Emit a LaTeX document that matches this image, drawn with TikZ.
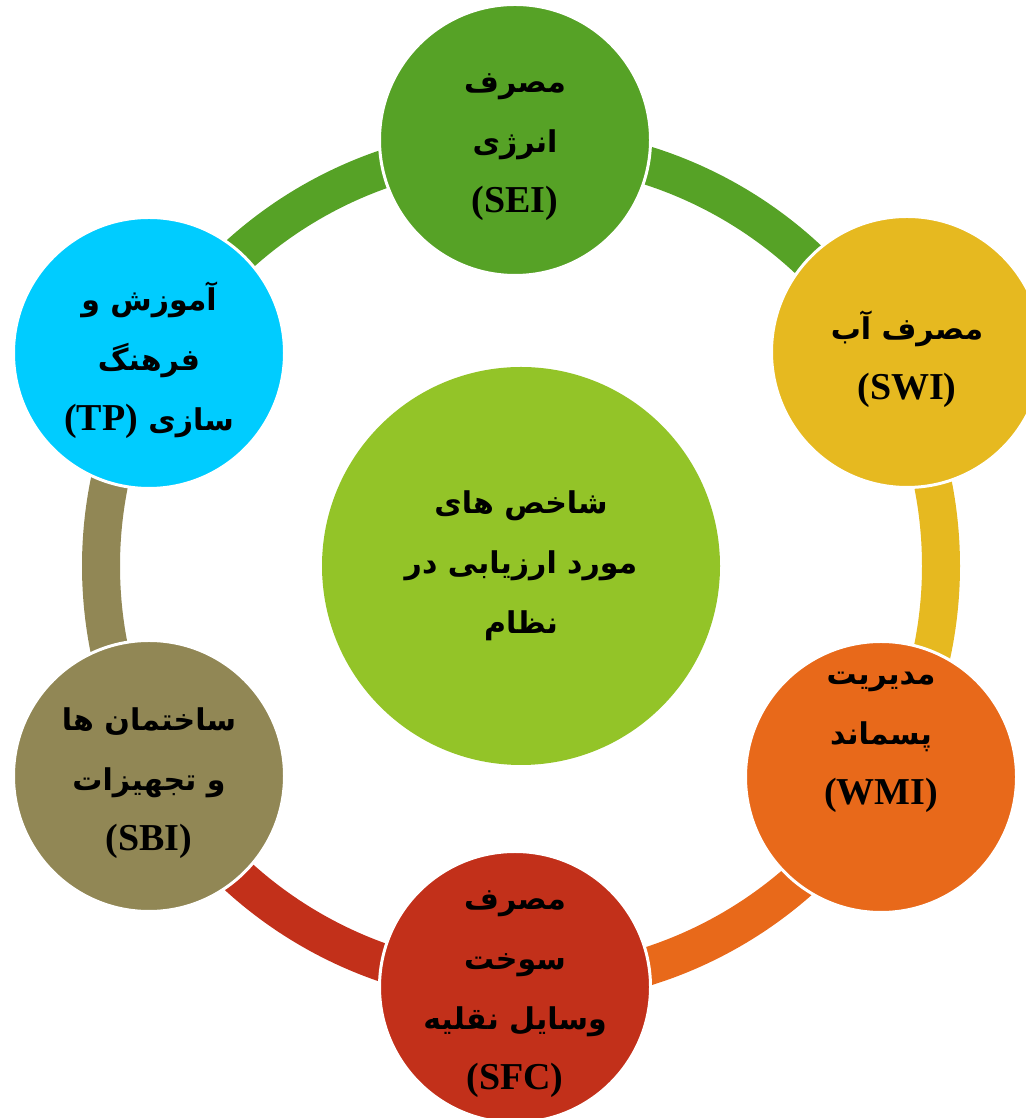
\documentclass[tikz,border=0pt]{standalone}
\usepackage{fontspec}
\newfontfamily\arabicfont[Script=Arabic]{DejaVu Sans}
\newfontfamily\latinfont{Liberation Serif}
\TeXXeTstate=1

\definecolor{cgreen}{RGB}{86,162,38}
\definecolor{cyellow}{RGB}{230,185,32}
\definecolor{corange}{RGB}{232,105,26}
\definecolor{cred}{RGB}{194,48,26}
\definecolor{colive}{RGB}{145,135,85}
\definecolor{ccyan}{RGB}{0,204,255}
\definecolor{clime}{RGB}{147,196,40}

\newcommand{\fa}[1]{{\arabicfont\bfseries\fontsize{30}{60}\selectfont\beginR #1\endR}}
\newcommand{\la}[1]{{\latinfont\bfseries\fontsize{38}{60}\selectfont #1}}

\begin{document}
\begin{tikzpicture}[x=1pt, y=1pt,
    ring/.style={line width=38pt},
    ball/.style={circle, draw=white, line width=3pt, minimum size=271pt, inner sep=0pt},
    balltext/.style={align=center, font=\fontsize{38}{60}\selectfont, yshift=-7pt}]
    \useasboundingbox (0,0) rectangle (1025,1118);
    \coordinate (hub) at (521,552);

    % Prstenec mezi kruhy
    \foreach \a/\b/\c in {150/90/cgreen, 90/29/cgreen, 29/-30/cyellow,
                          -30/-90/corange, -90/-150/cred, 150/210/colive} {
        \draw[ring, \c] ([shift={(\a:420)}]hub) arc[start angle=\a, end angle=\b, radius=420];
    }

    % Stredni kruh
    \node[ball, fill=clime, draw=none, minimum size=398pt, align=center,
          font=\fontsize{38}{60}\selectfont] (core) at (hub)
        {\fa{شاخص های}\\ \fa{مورد ارزیابی در}\\ \fa{نظام}};

    % Vnejsi kruhy
    \node[ball, fill=cgreen, label={[balltext]center:{\fa{مصرف}\\ \fa{انرژی}\\ \la{(SEI)}}}]
          (sei) at (515,978) {};
    \node[ball, fill=cyellow, label={[balltext]center:{\fa{مصرف آب}\\ \la{(SWI)}}}]
          (swi) at (907,766) {};
    \node[ball, fill=corange,
          label={[balltext, yshift=42pt]center:{\fa{مدیریت}\\ \fa{پسماند}\\ \la{(WMI)}}}]
          (wmi) at (881,341) {};
    \node[ball, fill=cred,
          label={[balltext]center:{\fa{مصرف}\\ \fa{سوخت}\\ \fa{وسایل نقلیه}\\ \la{(SFC)}}}]
          (sfc) at (515,131) {};
    \node[ball, fill=colive,
          label={[balltext]center:{\fa{ساختمان ها}\\ \fa{و تجهیزات}\\ \la{(SBI)}}}]
          (sbi) at (149,342) {};
    \node[ball, fill=ccyan,
          label={[balltext]center:{\fa{آموزش و}\\ \fa{فرهنگ}\\ \fa{سازی \beginL\la{(TP)}\endL}}}]
          (tp) at (149,765) {};
\end{tikzpicture}
\end{document}
